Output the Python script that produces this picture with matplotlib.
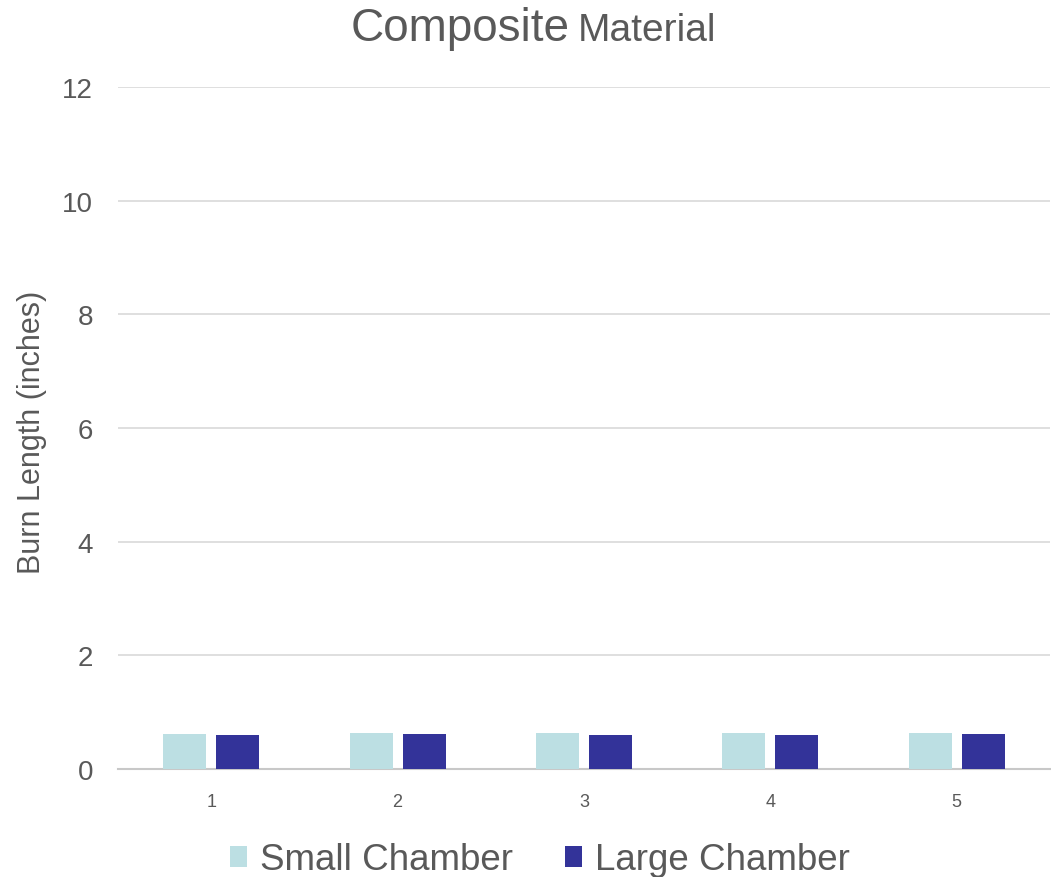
import matplotlib
matplotlib.use("Agg")
import matplotlib.pyplot as plt
import numpy as np

plt.rcParams['font.family'] = ['Liberation Sans', 'DejaVu Sans']

categories = ["1", "2", "3", "4", "5"]
small_chamber = [0.62, 0.63, 0.63, 0.64, 0.63]
large_chamber = [0.60, 0.62, 0.60, 0.60, 0.62]
yticks = [0, 2, 4, 6, 8, 10, 12]

fig = plt.figure(figsize=(10.51, 8.78), dpi=100)
ax = fig.add_axes([118/1051, 108/878, 932/1051, 682/878])

x = np.arange(len(categories))
w = 0.23
off = 0.142
ax.bar(x - off, small_chamber, w, color="#bcdfe3", label="Small Chamber", zorder=3)
ax.bar(x + off, large_chamber, w, color="#333399", label="Large Chamber", zorder=3)

ax.set_xlim(-0.5, len(categories) - 0.5)
ax.set_ylim(0, 12)
ax.set_yticks(yticks)
ax.set_yticklabels([str(t) for t in yticks], fontsize=20, color="#595959")
ax.set_xticks(x)
ax.set_xticklabels(categories, fontsize=13, color="#595959")
ax.tick_params(axis='both', length=0)
ax.tick_params(axis='y', pad=18)
ax.tick_params(axis='x', pad=17)
ax.grid(axis='y', color="#d9d9d9", linewidth=1.2, zorder=0)
for s in ["top", "right", "left"]:
    ax.spines[s].set_visible(False)
ax.spines["bottom"].set_color("#c8c8c8")
ax.spines["bottom"].set_linewidth(1.5)

ax.set_ylabel("Burn Length (inches)", fontsize=22, color="#595959")
ax.yaxis.set_label_coords(47/1051, (878 - 432) / 878, transform=fig.transFigure)

fig.text(570/1051, 1 - 41/878, "Composite", fontsize=33, color="#595959", ha="right", va="baseline")
fig.text(578/1051, 1 - 41/878, "Material", fontsize=28, color="#595959", ha="left", va="baseline")

ax.legend(loc="center", bbox_to_anchor=(540/1051, 17/878), bbox_transform=fig.transFigure,
          ncol=2, frameon=False, fontsize=26.5, labelcolor="#595959",
          handlelength=0.47, handleheight=0.5, handletextpad=0.36, columnspacing=1.4)

fig.savefig("out.png", dpi=100)
